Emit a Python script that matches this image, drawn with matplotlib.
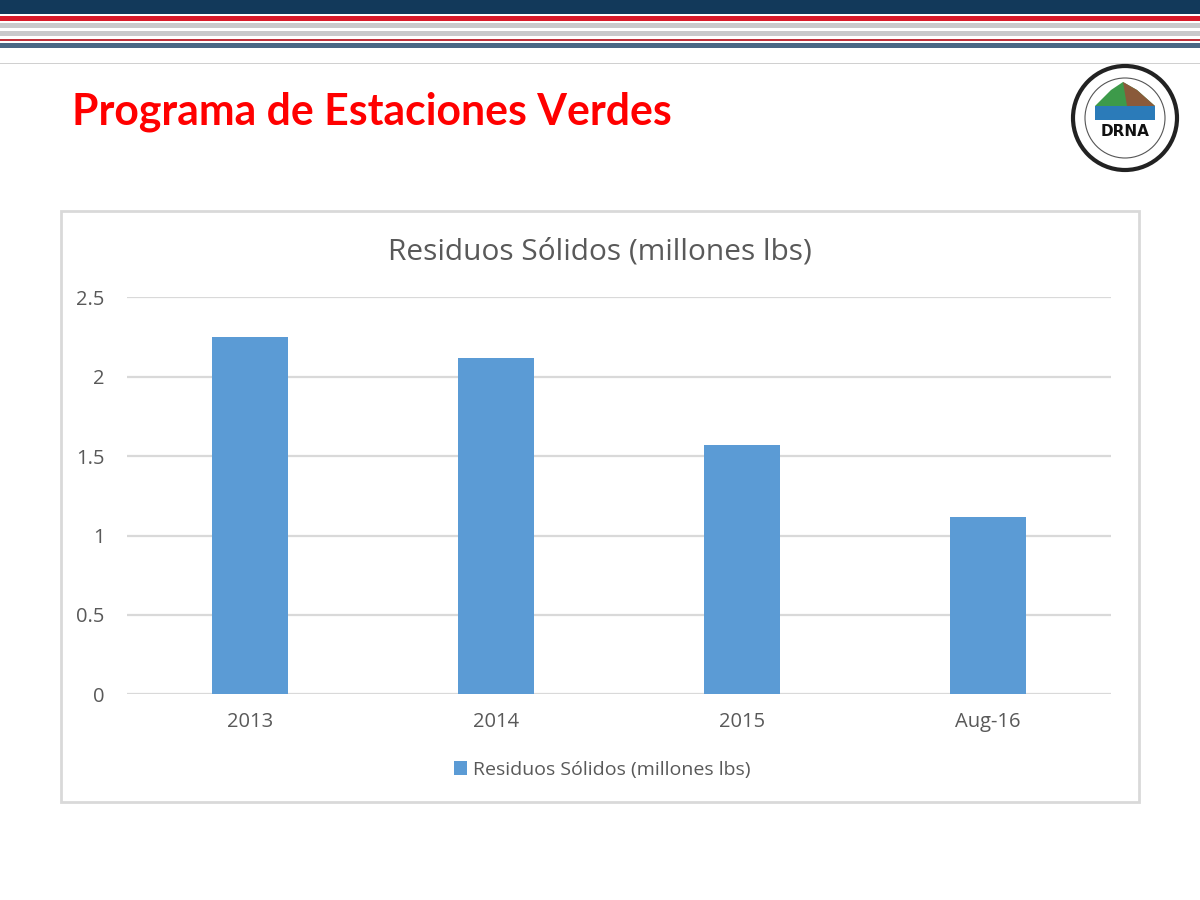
# recreating the "Programa de Estaciones Verdes" slide chart
import numpy as np
import matplotlib.pyplot as plt
from matplotlib.patches import Rectangle, Circle, Polygon
from matplotlib.ticker import FuncFormatter

# data
categories = ['2013', '2014', '2015', 'Aug-16']
values = [2.25, 2.12, 1.57, 1.12]
series_name = 'Residuos Sólidos (millones lbs)'
yticks = [0, 0.5, 1, 1.5, 2, 2.5]

BAR = '#5b9bd5'
GRID = '#d9d9d9'
TXT = '#595959'


def px(x0, y0, w, h):
    # convert pixel box (top-left origin) to figure fractions
    return [x0 / 1200, 1 - (y0 + h) / 900, w / 1200, h / 900]


def main():
    fig = plt.figure(figsize=(12, 9), dpi=100)
    fig.patch.set_facecolor('white')

    # background axes in pixel coordinates for the slide decoration
    bg = fig.add_axes([0, 0, 1, 1])
    bg.set_xlim(0, 1200)
    bg.set_ylim(900, 0)
    bg.axis('off')

    # header stripes (top, height, colour)
    stripes = [(0, 13.5, '#12395a'), (16, 5, '#d71a2a'), (23, 5, '#c9c9cb'),
               (31, 5, '#c9c9cb'), (39, 2, '#c0303a'), (43, 5, '#4a6784'),
               (62.5, 1.5, '#d0d0d0')]
    for top, h, c in stripes:
        bg.add_patch(Rectangle((0, top), 1200, h, color=c, lw=0))

    # slide title
    bg.text(72, 112, 'Programa de Estaciones Verdes', color='#ff0000',
            fontsize=30.8, fontweight='bold', family='Lato', va='center', ha='left')

    # simplified DRNA logo
    cx, cy = 1125, 118
    bg.add_patch(Circle((cx, cy), 52, facecolor='white', edgecolor='#222222', lw=3))
    bg.add_patch(Circle((cx, cy), 40, facecolor='none', edgecolor='#555555', lw=0.8))
    bg.add_patch(Rectangle((cx - 30, cy - 12), 60, 14, color='#2b7bb9', lw=0))
    bg.add_patch(Polygon([(cx - 30, cy - 12), (cx - 14, cy - 28), (cx - 2, cy - 36),
                          (cx + 12, cy - 28), (cx + 30, cy - 12)],
                         closed=True, color='#3d9a4a', lw=0))
    bg.add_patch(Polygon([(cx - 2, cy - 36), (cx + 12, cy - 28), (cx + 30, cy - 12),
                          (cx + 2, cy - 12)], closed=True, color='#8a5a3a', lw=0))
    bg.text(cx, cy + 14, 'DRNA', ha='center', va='center', fontsize=11,
            fontweight='bold', color='#111111', family='DejaVu Sans')

    # chart frame
    bg.add_patch(Rectangle((61, 211), 1078, 591, facecolor='white',
                           edgecolor=GRID, lw=2))
    bg.text(600, 252, series_name, ha='center', va='center', fontsize=21.5,
            color=TXT, family='Open Sans')

    # bar chart
    ax = fig.add_axes(px(126.7, 297.5, 984.3, 396.8))
    x = np.arange(len(categories))
    ax.bar(x, values, width=0.31, color=BAR, zorder=3, label=series_name)
    ax.set_xlim(-0.5, len(categories) - 0.5)
    ax.set_ylim(0, 2.5)
    ax.set_yticks(yticks)
    ax.yaxis.set_major_formatter(FuncFormatter(lambda v, p: '%g' % v))
    ax.set_xticks(x)
    ax.set_xticklabels(categories)
    ax.grid(axis='y', color=GRID, lw=1.6, zorder=0)
    ax.set_axisbelow(True)
    for s in ax.spines.values():
        s.set_visible(False)
    ax.tick_params(length=0, labelsize=14.5, labelcolor=TXT)
    ax.tick_params(axis='y', pad=16)
    ax.tick_params(axis='x', pad=13)
    for lab in ax.get_xticklabels() + ax.get_yticklabels():
        lab.set_family('Open Sans')
    ax.patch.set_alpha(0)

    leg = ax.legend(loc='center', bbox_to_anchor=(0.483, -0.19), frameon=False,
                    handlelength=0.7, handleheight=0.7, handletextpad=0.3,
                    prop={'family': 'Open Sans', 'size': 14})
    for t in leg.get_texts():
        t.set_color(TXT)

    fig.savefig('out.png', dpi=100)


if __name__ == '__main__':
    main()
